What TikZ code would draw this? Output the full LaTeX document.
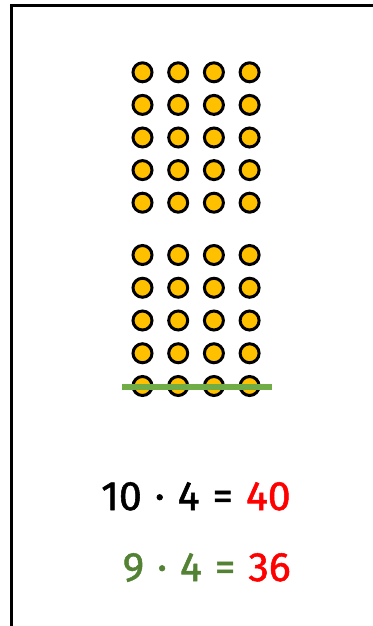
\documentclass[tikz,border=0pt]{standalone}
\usepackage{fontspec}
\setmainfont{Fira Sans}
\newfontfamily\eqfont{Fira Sans}[FakeBold=1.3]
\usepackage{tikz}
\definecolor{dotgold}{HTML}{FFC000}
\definecolor{cutgreen}{HTML}{70AD47}
\definecolor{eqgreen}{HTML}{548235}
\definecolor{eqred}{HTML}{FF0000}
\newcommand{\gap}{\hspace{13pt}}
\begin{document}
\begin{tikzpicture}[
      x=1pt,y=-1pt,
      dot/.style={
        circle,
        draw=black,
        fill=dotgold,
        line width=3pt,
        minimum size=19pt,
        inner sep=0pt
      },
      cutline/.style={draw=cutgreen,line width=6pt},
      frameline/.style={line width=3pt,line cap=rect},
      equation/.style={font=\eqfont\fontsize{41}{48}\selectfont,inner sep=0pt}
    ]
    \useasboundingbox (0,0) rectangle (372,626);
    \coordinate (frameB) at (11,630);
    \coordinate (frameC) at (11,6);
    \coordinate (frameR) at (376,6);
    \draw[frameline] (frameB) -- (frameC) -- (frameR);

    % upper block of 5 rows, lower block of 5 rows
    \foreach \r in {1,...,5}
      \foreach \c in {1,...,4}
        \node[dot] (up-\r-\c) at ({142.5+35.7*(\c-1)},{72.3+32.6*(\r-1)}) {};
    \foreach \r in {1,...,5}
      \foreach \c in {1,...,4}
        \node[dot] (lo-\r-\c) at ({142.5+35.7*(\c-1)},{255+32.75*(\r-1)}) {};

    \coordinate (cutL) at (122,387);
    \coordinate (cutR) at (272,387);
    \draw[cutline] (cutL) -- (cutR);

    \node[equation,anchor=base west] (eqten) at (101,510)
      {10\gap·\gap4\gap=\gap\textcolor{eqred}{40}};
    \node[equation,anchor=base east,text=eqgreen] (eqnine) at (eqten.base east |- 0,581)
      {9\gap·\gap4\gap=\gap\textcolor{eqred}{36}};
  \end{tikzpicture}
\end{document}
